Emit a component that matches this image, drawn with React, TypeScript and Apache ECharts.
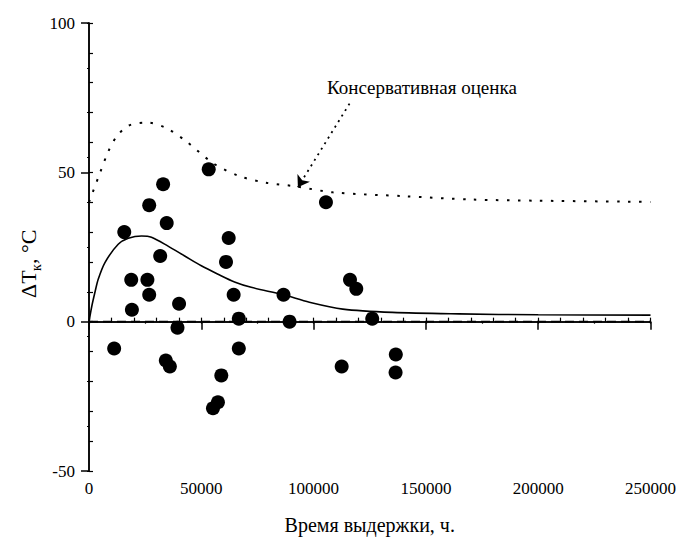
import React, { useEffect, useRef } from "react";
import * as echarts from "echarts";

// Experimental points: holding time (h) and ΔTк (°C)
const pointTime = [
  11200, 15700, 18800, 19100, 26000, 26800, 26800, 31700, 33000, 34600, 34200,
  36000, 39400, 40100, 53300, 55200, 57400, 58900, 61000, 62200, 64400, 66700,
  66700, 86600, 89300, 105500, 112500, 116200, 119000, 126100, 136600, 136500,
];
const pointDeltaT = [
  -9, 30, 14, 4, 14, 9, 39, 22, 46, 33, -13, -15, -2, 6, 51, -29, -27, -18, 20,
  28, 9, 1, -9, 9, 0, 40, -15, 14, 11, 1, -11, -17,
];

// Solid fitted curve
const fitTime = [
  0, 1200, 2700, 4100, 7100, 13000, 17500, 23400, 27800, 35200, 42600, 50000,
  57400, 64800, 72200, 86600, 98100, 113000, 135100, 164700, 200000, 250000,
];
const fitDeltaT = [
  0, 5, 10, 14.2, 19.8, 25.9, 27.9, 28.7, 28.3, 25.3, 22, 18.7, 15.9, 13.3,
  11.5, 9, 6.5, 4.2, 3.1, 2.6, 2.3, 2.2,
];

// Dotted conservative estimate curve
const consTime = [
  0, 4900, 8600, 12300, 17500, 25600, 34500, 43400, 55200, 67000, 78900, 92200,
  108500, 140600, 170200, 199800, 250000,
];
const consDeltaT = [
  40, 49.8, 57, 62, 65.6, 66.7, 64.8, 60.3, 53.1, 48.7, 46.5, 45.3, 43.3, 42,
  40.9, 40.5, 40.1,
];

// Zero reference line
const zeroTime = [0, 250000];
const zeroDeltaT = [0, 0];

// Arrow of the annotation (from label to curve)
const arrowFrom = [116000, 73];
const arrowTo = [93000, 45];

const annotationText = "Консервативная оценка";
const xAxisTitle = "Время выдержки, ч.";

const FONT = "Times New Roman";

export default function App() {
  const ref = useRef<HTMLDivElement>(null);

  useEffect(() => {
    if (!ref.current) return;
    const chart = echarts.init(ref.current, undefined, { renderer: "svg" });
    const zip = (a: number[], b: number[]) => a.map((v, i) => [v, b[i]]);
    const grid = { left: 89, right: 27, top: 23, bottom: 67 };
    const black = "#000";
    const plain = (v: number) => String(v);

    chart.setOption({
      animation: false,
      backgroundColor: "#fff",
      textStyle: { fontFamily: FONT },
      grid,
      xAxis: [
        {
          type: "value",
          position: "bottom",
          min: 0,
          max: 250000,
          interval: 50000,
          splitLine: { show: false },
          axisLine: { show: true, lineStyle: { color: black, width: 1.5 } },
          axisTick: { show: true, inside: false, length: 8, lineStyle: { color: black, width: 1.5 } },
          axisLabel: { color: black, fontFamily: FONT, fontSize: 17, margin: 9, formatter: plain },
          name: xAxisTitle,
          nameLocation: "middle",
          nameGap: 44,
          nameTextStyle: { color: black, fontFamily: FONT, fontSize: 20 },
        },
        {
          type: "value",
          position: "bottom",
          min: 0,
          max: 250000,
          interval: 10000,
          splitLine: { show: false },
          axisLine: { show: false },
          axisTick: { show: true, inside: true, length: 4, lineStyle: { color: black, width: 1.2 } },
          axisLabel: { show: false },
        },
        {
          type: "value",
          position: "top",
          min: 0,
          max: 250000,
          interval: 25000,
          splitLine: { show: false },
          axisLine: { show: true, lineStyle: { color: black, width: 1.5 } },
          axisTick: { show: true, inside: true, length: 2, lineStyle: { color: black, width: 1.2 } },
          axisLabel: { show: false },
        },
      ],
      yAxis: [
        {
          type: "value",
          position: "left",
          min: -50,
          max: 100,
          interval: 50,
          splitLine: { show: false },
          axisLine: { show: true, lineStyle: { color: black, width: 1.5 } },
          axisTick: { show: true, inside: false, length: 8, lineStyle: { color: black, width: 1.5 } },
          axisLabel: { color: black, fontFamily: FONT, fontSize: 17, margin: 14, formatter: plain },
        },
        {
          type: "value",
          position: "left",
          min: -50,
          max: 100,
          interval: 10,
          splitLine: { show: false },
          axisLine: { show: false },
          axisTick: { show: true, inside: true, length: 4, lineStyle: { color: black, width: 1.2 } },
          axisLabel: { show: false },
        },
        {
          type: "value",
          position: "right",
          min: -50,
          max: 100,
          interval: 15,
          splitLine: { show: false },
          axisLine: { show: true, lineStyle: { color: black, width: 1.5 } },
          axisTick: { show: true, inside: true, length: 2, lineStyle: { color: black, width: 1.2 } },
          axisLabel: { show: false },
        },
      ],
      series: [
        {
          type: "line",
          data: zip(zeroTime, zeroDeltaT),
          showSymbol: false,
          silent: true,
          lineStyle: { color: black, width: 1.8, type: [9, 5] },
          z: 1,
        },
        {
          type: "line",
          data: zip(consTime, consDeltaT),
          showSymbol: false,
          smooth: 0.3,
          silent: true,
          lineStyle: { color: black, width: 2, type: [2.5, 8.5] },
          markLine: {
            silent: true,
            symbol: ["none", "arrow"],
            symbolSize: 11,
            label: { show: false },
            lineStyle: { color: black, width: 1.8, type: [2, 4.5] },
            data: [[{ coord: arrowFrom }, { coord: arrowTo }]],
          },
          z: 2,
        },
        {
          type: "line",
          data: zip(fitTime, fitDeltaT),
          showSymbol: false,
          smooth: 0.3,
          silent: true,
          lineStyle: { color: black, width: 1.6 },
          z: 3,
        },
        {
          type: "scatter",
          data: zip(pointTime, pointDeltaT),
          symbol: "circle",
          symbolSize: 14,
          itemStyle: { color: black, opacity: 1 },
          silent: true,
          z: 4,
        },
      ],
      graphic: [
        {
          type: "text",
          left: 327,
          top: 78,
          style: {
            text: annotationText,
            fontFamily: FONT,
            fontSize: 19,
            fill: black,
          },
        },
        {
          type: "group",
          x: 34,
          y: 298,
          rotation: Math.PI / 2,
          children: [
            {
              type: "text",
              x: 0,
              y: 5,
              style: {
                text: "ΔT",
                fontFamily: FONT,
                fontSize: 22,
                fill: black,
                textAlign: "left",
                textVerticalAlign: "bottom",
              },
            },
            {
              type: "text",
              x: 27,
              y: 9,
              style: {
                text: "к",
                fontFamily: FONT,
                fontSize: 14,
                fill: black,
                textAlign: "left",
                textVerticalAlign: "bottom",
              },
            },
            {
              type: "text",
              x: 34,
              y: 5,
              style: {
                text: ", °C",
                fontFamily: FONT,
                fontSize: 22,
                fill: black,
                textAlign: "left",
                textVerticalAlign: "bottom",
              },
            },
          ],
        },
      ],
    });

    return () => chart.dispose();
  }, []);

  return (
    <div
      ref={ref}
      style={{ position: "fixed", left: 0, top: 0, width: 679, height: 540, background: "#fff" }}
    />
  );
}
